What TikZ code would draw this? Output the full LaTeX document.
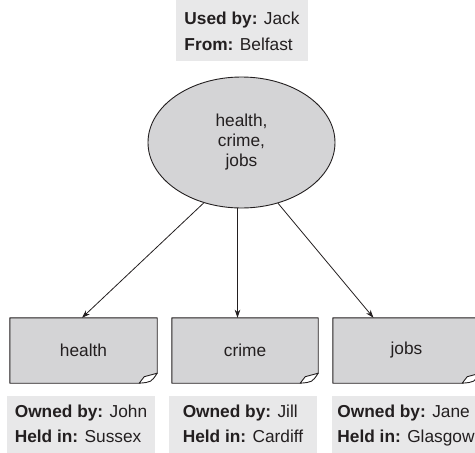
\documentclass[tikz,border=0pt]{standalone}
\usepackage{fontspec}
\setmainfont{Liberation Sans}
\usetikzlibrary{shapes.geometric,arrows.meta,backgrounds}
\definecolor{shapegrey}{HTML}{D4D4D6}
\definecolor{infogrey}{HTML}{E8E8E9}
\definecolor{ink}{HTML}{231F20}
\newcommand\dogear[1]{%
  \begin{pgfonlayer}{background}
  \filldraw[fill=shapegrey, draw=ink, line width=0.9pt, line join=round]
    (#1.north west) -- (#1.north east) -- ([yshift=10pt]#1.south east)
    -- ([xshift=-18pt]#1.south east) -- (#1.south west) -- cycle;
  \filldraw[fill=white, draw=ink, line width=0.9pt, line join=round]
    ([xshift=-18pt]#1.south east) .. controls ([xshift=-6pt,yshift=1pt]#1.south east) ..
    ([yshift=10pt]#1.south east) -- ([xshift=-13pt,yshift=6.5pt]#1.south east) -- cycle;
  \end{pgfonlayer}}
\begin{document}
\begin{tikzpicture}[x=1pt,y=-1pt,
  font=\fontsize{17.3}{25.5}\selectfont, text=ink,
  infobg/.style={fill=infogrey, inner sep=0pt},
  infotext/.style={inner sep=0pt, align=left},
  note/.style={inner sep=0pt, minimum height=65pt},
  arr/.style={draw=ink, line width=0.8pt, -{Stealth[length=8pt,width=5.5pt,inset=2.5pt]}}]
\useasboundingbox (0,0) rectangle (475,453);

% top info box
\node[infobg, minimum width=132pt, minimum height=65pt] (top) at (242,28.5) {};
\node[infotext] (toptext) at (242,32.5) {\textbf{Used by:} Jack\strut\\\textbf{From:} Belfast\strut};

% central ellipse
\node[ellipse, draw=ink, fill=shapegrey, line width=0.9pt, inner sep=0pt,
  minimum width=187pt, minimum height=131pt, align=center,
  font=\fontsize{17.3}{20}\selectfont] (e) at (241.5,142.5) {health,\\crime,\\jobs};

% document boxes
\node[note, minimum width=147pt] (health) at (83.5,350.5) {health};
\node[note, minimum width=146pt] (crime) at (245,350.5) {crime};
\node[note, minimum width=147pt] (jobs) at (406.5,350.5) {jobs};
\dogear{health}
\dogear{crime}
\dogear{jobs}

% connectors
\draw[arr] (e.238) -- ([xshift=-1.5pt]health.north);
\draw[arr] ([xshift=-4pt]e.south) -- ([xshift=-4pt]e.south |- crime.north);
\draw[arr] (e.301) -- ([xshift=-33pt]jobs.north);

% bottom info boxes
\node[infobg, minimum width=148pt, minimum height=65pt] (i1) at (81,428.5) {};
\node[infobg, minimum width=148pt, minimum height=65pt] (i2) at (243,428.5) {};
\node[infobg, minimum width=148pt, minimum height=65pt] (i3) at (406,428.5) {};
\node[infotext] (t1) at (i1 |- 0,425) {\textbf{Owned by:} John\strut\\\textbf{Held in:} Sussex\strut};
\node[infotext] (t2) at (i2 |- 0,425) {\textbf{Owned by:} Jill\strut\\\textbf{Held in:} Cardiff\strut};
\node[infotext] (t3) at (i3 |- 0,425) {\textbf{Owned by:} Jane\strut\\\textbf{Held in:} Glasgow\strut};
\end{tikzpicture}
\end{document}
